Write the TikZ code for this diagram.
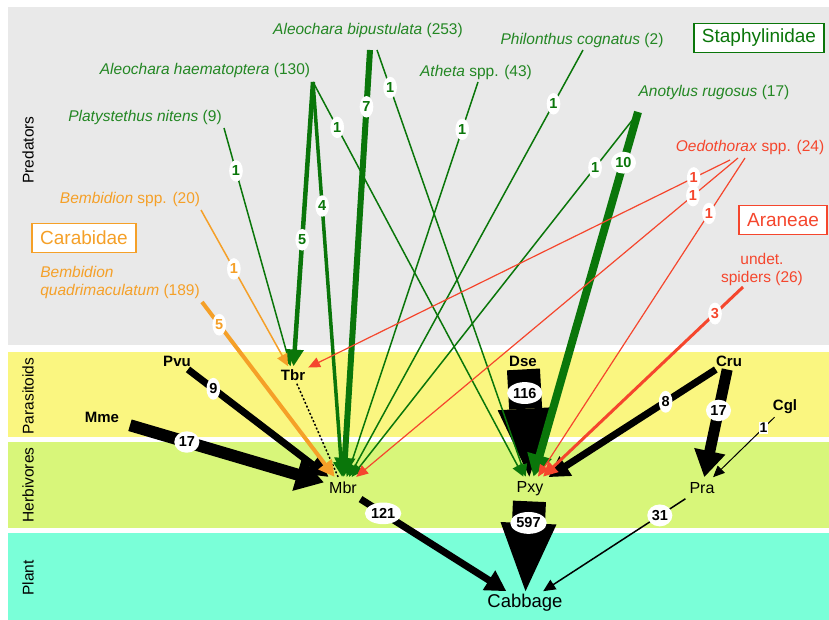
\documentclass[tikz,border=0pt]{standalone}
\usepackage{fontspec}
\setmainfont{Liberation Sans}
\usetikzlibrary{arrows.meta, positioning, shapes.geometric}

\definecolor{staph}{RGB}{10,118,10}
\definecolor{staphtxt}{RGB}{35,135,35}
\definecolor{carab}{RGB}{245,160,40}
\definecolor{aran}{RGB}{245,70,45}
\definecolor{predbg}{RGB}{233,233,233}
\definecolor{parabg}{RGB}{250,246,128}
\definecolor{herbbg}{RGB}{216,246,122}
\definecolor{plantbg}{RGB}{122,255,216}

\begin{document}
\begin{tikzpicture}[
    x=1pt, y=-1pt,
    spec/.style={font=\fontsize{15.5}{18}\selectfont, inner sep=1pt},
    fam/.style={draw=#1, text=#1, line width=1.8pt, fill=white,
        font=\fontsize{19}{19}\selectfont, inner xsep=8pt, minimum height=29pt},
    para/.style={font=\bfseries\fontsize{15}{15}\selectfont, inner sep=3pt},
    herb/.style={font=\fontsize{16}{16}\selectfont, inner sep=5pt},
    band/.style={rotate=90, font=\fontsize{15.5}{15.5}\selectfont},
    flow/.style={line width=#1pt, -{Triangle[length=10pt 1.5, width=8pt 2]}},
    gflow/.style={flow=#1, staph},
    oflow/.style={flow=#1, carab},
    rflow/.style={flow=#1, aran},
    kflow/.style={flow=#1, black},
    block/.style={line width=33pt, -{Triangle[length=68pt, width=56pt, line width=0pt]}},
    lbl/.style={ellipse, fill=white, inner xsep=0.8pt, inner ysep=2.6pt,
        font=\bfseries\fontsize{14.5}{14.5}\selectfont, text=#1},
    boxlbl/.style={rectangle, fill=white, inner sep=1pt,
        font=\bfseries\fontsize{14}{14}\selectfont},
]
    \useasboundingbox (0,0) rectangle (829,620);

    % bands
    \fill[white]   (0,0)   rectangle (829,620);
    \fill[predbg]  (8,7)   rectangle (829,345);
    \fill[parabg]  (8,352) rectangle (829,437);
    \fill[herbbg]  (8,442) rectangle (829,528);
    \fill[plantbg] (8,533) rectangle (829,620);

    \node[band] (lpred)  at (28,150) {Predators};
    \node[band] (lpara)  at (28,396) {Parasitoids};
    \node[band] (lherb)  at (28,485) {Herbivores};
    \node[band] (lplant) at (28,578) {Plant};

    % predators
    \node[spec, text=staphtxt] (abip) at (368,30)  {\textit{Aleochara bipustulata} (253)};
    \node[spec, text=staphtxt] (ahae) at (205,70)  {\textit{Aleochara haematoptera} (130)};
    \node[spec, text=staphtxt] (pnit) at (145,117) {\textit{Platystethus nitens} (9)};
    \node[spec, text=staphtxt] (pcog) at (582,40)  {\textit{Philonthus cognatus} (2)};
    \node[spec, text=staphtxt] (athe) at (476,72)  {\textit{Atheta} spp. (43)};
    \node[spec, text=staphtxt] (arug) at (714,92)  {\textit{Anotylus rugosus} (17)};
    \node[spec, text=aran]  (oedo) at (750,147) {\textit{Oedothorax} spp. (24)};
    \node[spec, text=aran, align=center] (spid) at (762,269) {undet.\\spiders (26)};
    \node[spec, text=carab] (bspp) at (130,199) {\textit{Bembidion} spp. (20)};
    \node[spec, text=carab, align=left] (bqua) at (120,282)
        {\textit{Bembidion}\\\textit{quadrimaculatum} (189)};

    \node[fam=staph] (staphy) at (759,38)  {Staphylinidae};
    \node[fam=carab] (carabi) at (84,238)  {Carabidae};
    \node[fam=aran]  (aranea) at (783,220) {Araneae};

    % parasitoids, herbivores, plant
    \node[para] (Pvu) at (177,361) {Pvu};
    \node[para] (Tbr) at (293,375) {Tbr};
    \node[para] (Mme) at (102,417) {Mme};
    \node[para] (Dse) at (523,361) {Dse};
    \node[para] (Cru) at (729,361) {Cru};
    \node[para] (Cgl) at (785,407) {Cgl};

    \node[herb] (Mbr) at (343,488) {Mbr};
    \node[herb] (Pxy) at (530,489) {Pxy};
    \node[herb] (Pra) at (702,488) {Pra};
    \node[herb, font=\fontsize{18.5}{18.5}\selectfont, inner sep=3pt] (Cabbage) at (525,603) {Cabbage};

    \coordinate (pnit-o) at (224,128);
    \coordinate (ahae-o) at (313,82);
    \coordinate (abip-o) at (370,50);
    \coordinate (abip-p) at (377,50);
    \coordinate (pcog-o) at (583,50);
    \coordinate (athe-o) at (478,82);
    \coordinate (arug-o) at (638,112);
    \coordinate (arug-p) at (634,118);
    \coordinate (oedo-o) at (730,160);
    \coordinate (oedo-p) at (738,158);
    \coordinate (oedo-q) at (745,158);
    \coordinate (spid-o) at (743,287);
    \coordinate (bspp-o) at (201,210);
    \coordinate (bqua-o) at (202,302);

    % black flows
    \path
        (Dse) edge[block]      node[lbl=black, pos=.22]  {116} (Pxy)
        (Pxy) edge[block]      node[lbl=black, pos=.24]  {597} (Cabbage)
        (Mme) edge[kflow=12, shorten <=8pt] node[lbl=black, pos=.32] {17} (Mbr)
        (Pvu) edge[kflow=7]    node[lbl=black, pos=.18]  {9}   (Mbr)
        (Cru) edge[kflow=7]    node[lbl=black, pos=.30]  {8}   (Pxy)
        (Cru) edge[kflow=11]   node[lbl=black, pos=.38]  {17}  (Pra)
        (Cgl) edge[kflow=1]    node[boxlbl, pos=.18]     {1}   (Pra)
        (Mbr) edge[kflow=7]    node[lbl=black, pos=.155] {121} (Cabbage)
        (Pra) edge[kflow=1.5]  node[lbl=black, pos=.18]  {31}  (Cabbage)
        (Tbr) edge[dash pattern=on 2pt off 2pt, line width=1.5pt] (Mbr)
    ;

    % staphylinidae
    \path
        (pnit-o) edge[gflow=1.5] node[lbl=staph, pos=.18]  {1}  (Tbr)
        (ahae-o) edge[gflow=4.5] node[lbl=staph, pos=.555] {5}  (Tbr)
        (ahae-o) edge[gflow=3.5] node[lbl=staph, pos=.314] {4}  (Mbr)
        (ahae-o) edge[gflow=1.5] node[lbl=staph, pos=.115] {1}  (Pxy)
        (abip-o) edge[gflow=6]   node[lbl=staph, pos=.133] {7}  (Mbr)
        (abip-p) edge[gflow=1.5] node[lbl=staph, pos=.088] {1}  (Pxy)
        (athe-o) edge[gflow=1.5] node[lbl=staph, pos=.12]  {1}  (Mbr)
        (pcog-o) edge[gflow=1.5] node[lbl=staph, pos=.126] {1}  (Mbr)
        (arug-p) edge[gflow=1.5] node[lbl=staph, pos=.138] {1}  (Mbr)
        (arug-o) edge[gflow=8]   node[lbl=staph, pos=.139] {10} (Pxy)
    ;

    % carabidae, araneae
    \path
        (bspp-o) edge[oflow=1.5] node[lbl=carab, pos=.377] {1} (Tbr)
        (bqua-o) edge[oflow=4]   node[lbl=carab, pos=.13]  {5} (Mbr)
        (oedo-o) edge[rflow=1.2] node[lbl=aran, pos=.086]  {1} (Tbr)
        (oedo-p) edge[rflow=1.2] node[lbl=aran, pos=.118]  {1} (Mbr)
        (oedo-q) edge[rflow=1.2] node[lbl=aran, pos=.174]  {1} (Pxy)
        (spid-o) edge[rflow=3]   node[lbl=aran, pos=.14]   {3} (Pxy)
    ;
\end{tikzpicture}
\end{document}
